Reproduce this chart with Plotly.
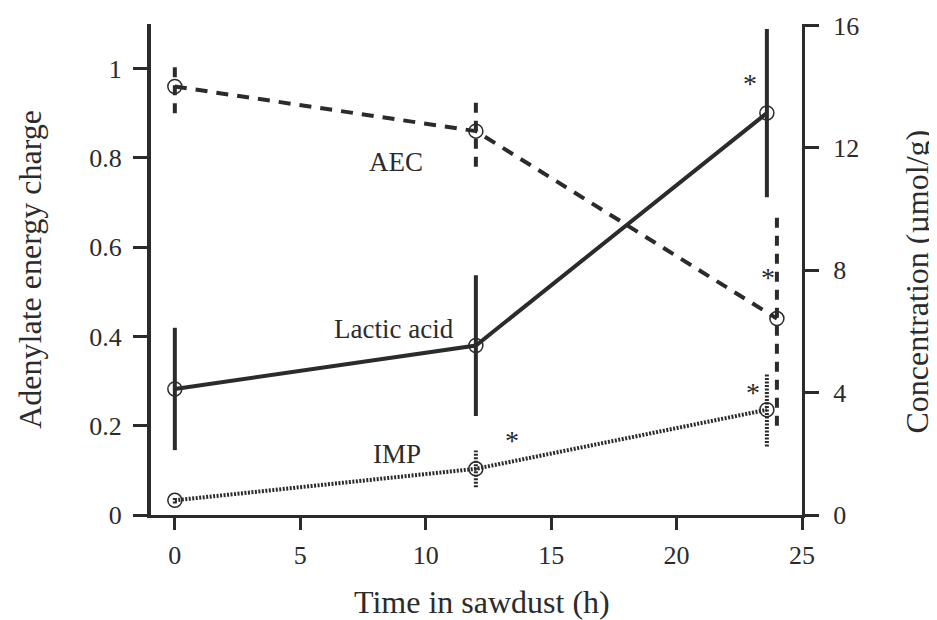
import plotly.graph_objects as go

# ---- data ----
aec_time = [0, 12, 24]
aec_value = [0.96, 0.86, 0.44]
aec_err = [0.06, 0.08, 0.24]

lactic_time = [0, 12, 23.6]
lactic_value = [4.12, 5.54, 13.14]
lactic_err = [2.0, 2.3, 2.75]

imp_time = [0, 12, 23.6]
imp_value = [0.48, 1.51, 3.44]
imp_err = [0.1, 0.6, 1.2]

x_ticks = [0, 5, 10, 15, 20, 25]
left_ticks = [0, 0.2, 0.4, 0.6, 0.8, 1]
left_tick_text = ["0", "0.2", "0.4", "0.6", "0.8", "1"]
right_ticks = [0, 4, 8, 12, 16]

INK = "#2b2b2b"
FONT = "Liberation Serif, Times New Roman, serif"


def err_segments(xs, ys, es):
    sx, sy = [], []
    for x, y, e in zip(xs, ys, es):
        sx += [x, x, None]
        sy += [y - e, y + e, None]
    return sx, sy


fig = go.Figure()

# error bars (drawn as segments from data)
ex, ey = err_segments(aec_time, aec_value, aec_err)
fig.add_trace(go.Scatter(x=ex, y=ey, mode="lines", yaxis="y",
                         line=dict(color=INK, width=4, dash="10px,8px"),
                         showlegend=False, hoverinfo="skip"))
ex, ey = err_segments(lactic_time, lactic_value, lactic_err)
fig.add_trace(go.Scatter(x=ex, y=ey, mode="lines", yaxis="y2",
                         line=dict(color=INK, width=4),
                         showlegend=False, hoverinfo="skip"))
ex, ey = err_segments(imp_time, imp_value, imp_err)
fig.add_trace(go.Scatter(x=ex, y=ey, mode="lines", yaxis="y2",
                         line=dict(color=INK, width=4, dash="2px,1.5px"),
                         showlegend=False, hoverinfo="skip"))

# series lines
marker = dict(symbol="circle-open", size=14, line=dict(color=INK, width=1.5), color=INK)
fig.add_trace(go.Scatter(x=aec_time, y=aec_value, mode="lines+markers", yaxis="y",
                         name="AEC", line=dict(color=INK, width=4, dash="12px,9px"),
                         marker=marker))
fig.add_trace(go.Scatter(x=lactic_time, y=lactic_value, mode="lines+markers", yaxis="y2",
                         name="Lactic acid", line=dict(color=INK, width=4),
                         marker=marker))
fig.add_trace(go.Scatter(x=imp_time, y=imp_value, mode="lines+markers", yaxis="y2",
                         name="IMP", line=dict(color=INK, width=4, dash="2px,1.5px"),
                         marker=marker))

annotations = []
labels = [
    ("AEC", 8.81, 0.79),
    ("Lactic acid", 8.73, 0.417),
    ("IMP", 8.85, 0.137),
]
for t, x, y in labels:
    annotations.append(dict(text=t, x=x, y=y, xref="x", yref="y", showarrow=False,
                            font=dict(family=FONT, size=27, color=INK)))
stars = [(22.93, 0.971), (23.64, 0.536), (23.05, 0.28), (13.44, 0.172)]
for x, y in stars:
    annotations.append(dict(text="*", x=x, y=y, xref="x", yref="y", showarrow=False,
                            yshift=-2, font=dict(family=FONT, size=28, color=INK)))

# axis titles
title_font = dict(family=FONT, size=32, color=INK)
annotations.append(dict(text="Time in sawdust (h)", x=0.508, y=-0.177, xref="paper", yref="paper",
                        showarrow=False, xanchor="center", yanchor="middle", font=title_font))
annotations.append(dict(text="Adenylate energy charge", x=-0.187, y=0.5, xref="paper", yref="paper",
                        showarrow=False, textangle=-90, xanchor="center", yanchor="middle",
                        font=title_font))
annotations.append(dict(text="Concentration (µmol/g)", x=1.177, y=0.476, xref="paper", yref="paper",
                        showarrow=False, textangle=-90, xanchor="center", yanchor="middle",
                        font=title_font))

axis_common = dict(showgrid=False, zeroline=False, showline=True, linecolor=INK,
                   ticks="outside", tickcolor=INK, automargin=False,
                   ticklabeloverflow="allow",
                   tickfont=dict(family=FONT, size=26, color=INK))

fig.update_layout(
    width=929, height=612,
    margin=dict(l=143, r=135, t=16, b=105, autoexpand=False),
    paper_bgcolor="white", plot_bgcolor="white",
    showlegend=False,
    font=dict(family=FONT, color=INK),
    xaxis=dict(range=[-0.95, 25], tickvals=x_ticks, ticklen=12, tickwidth=3, linewidth=3,
               ticklabelstandoff=3, **axis_common),
    yaxis=dict(range=[0, 1.1], tickvals=left_ticks, ticktext=left_tick_text,
               ticklen=14, tickwidth=3, linewidth=4, ticklabelstandoff=6, **axis_common),
    yaxis2=dict(range=[0, 16.05], tickvals=right_ticks, overlaying="y", side="right",
                anchor="x", ticklen=14, tickwidth=3, linewidth=3, ticklabelstandoff=9,
                **axis_common),
    annotations=annotations,
)

fig.write_html("out.html")
